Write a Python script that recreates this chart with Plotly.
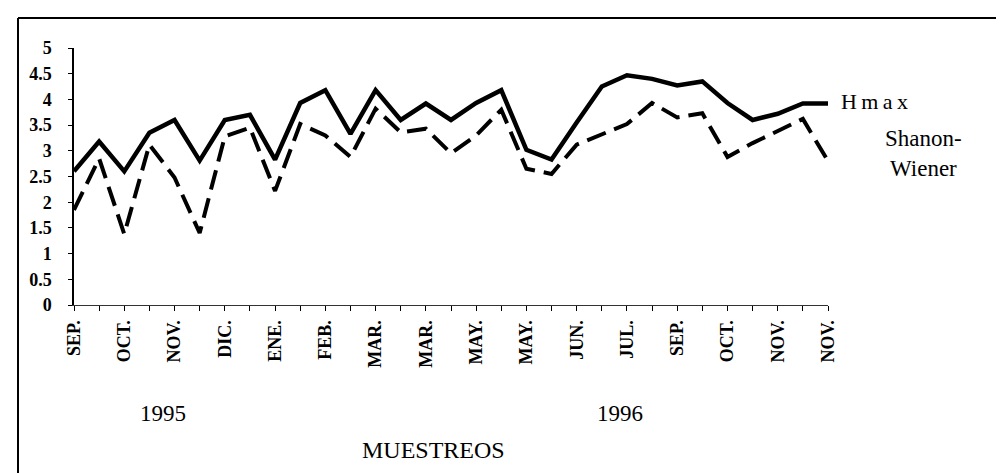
import plotly.graph_objects as go

# Sampling index (31 samplings), labels on every other sampling
muestreos = list(range(31))
tick_labels = ["SEP.", "OCT.", "NOV.", "DIC.", "ENE.", "FEB.", "MAR.", "MAR.",
               "MAY.", "MAY.", "JUN.", "JUL.", "SEP.", "OCT.", "NOV.", "NOV."]
tick_positions = muestreos[::2]
y_ticks = [0, 0.5, 1, 1.5, 2, 2.5, 3, 3.5, 4, 4.5, 5]
y_tick_labels = ["0", "0.5", "1", "1.5", "2", "2.5", "3", "3.5", "4", "4.5", "5"]

hmax = [2.60, 3.18, 2.60, 3.35, 3.60, 2.81, 3.60, 3.70, 2.83, 3.93,
        4.18, 3.33, 4.18, 3.60, 3.92, 3.60, 3.93, 4.18, 3.02, 2.83,
        3.55, 4.25, 4.47, 4.40, 4.27, 4.35, 3.93, 3.60, 3.72, 3.92, 3.92]
shannon = [1.85, 2.85, 1.38, 3.12, 2.48, 1.40, 3.28, 3.45, 2.22, 3.52,
           3.30, 2.88, 3.82, 3.36, 3.43, 2.95, 3.30, 3.80, 2.65, 2.55,
           3.12, 3.33, 3.52, 3.93, 3.65, 3.73, 2.88, 3.15, 3.38, 3.62, 2.80]

W, H = 1004, 473
L, R, T, B = 66, 184, 40, 176
pw, ph = W - L - R, H - T - B

def px(x):
    return (x - L) / pw

def py(y):
    return (H - B - y) / ph

fig = go.Figure()
fig.add_trace(go.Scatter(x=muestreos, y=hmax, mode="lines", name="Hmax",
                         line=dict(color="black", width=4.5), showlegend=False))
fig.add_trace(go.Scatter(x=muestreos, y=shannon, mode="lines", name="Shanon-Wiener",
                         line=dict(color="black", width=4, dash="20px,9px"),
                         showlegend=False))

serif = "Times New Roman, Liberation Serif, serif"
fig.update_layout(
    width=W, height=H,
    margin=dict(l=L, r=R, t=T, b=B, pad=0),
    plot_bgcolor="white", paper_bgcolor="white",
    xaxis=dict(range=[0, 30], tickvals=tick_positions, ticktext=tick_labels,
               tickangle=-90, showgrid=False, zeroline=False,
               showline=True, linecolor="#333333", linewidth=1,
               ticks="outside", ticklen=5, tickcolor="black", tickwidth=1,
               minor=dict(tickvals=muestreos, ticks="outside", ticklen=5,
                          tickcolor="black", tickwidth=1),
               ticklabelstandoff=2,
               tickfont=dict(family=serif, size=18, color="black", weight="bold")),
    yaxis=dict(range=[0, 5], tickvals=y_ticks, ticktext=y_tick_labels,
               showgrid=False, zeroline=False, showline=True, linecolor="black",
               linewidth=1.5, ticks="outside", ticklen=4, tickcolor="black",
               ticklabelstandoff=13,
               tickfont=dict(family=serif, size=18, color="black", weight="bold")),
)

# frame lines (left and top)
fig.add_shape(type="line", xref="paper", yref="paper",
              x0=px(10), x1=px(10), y0=py(10), y1=py(H + 5),
              line=dict(color="black", width=2))
fig.add_shape(type="line", xref="paper", yref="paper",
              x0=px(10), x1=px(W + 5), y0=py(10), y1=py(10),
              line=dict(color="black", width=2))

def ann(text, x, y, size, xanchor="center"):
    fig.add_annotation(text=text, xref="paper", yref="paper", x=px(x), y=py(y),
                       xanchor=xanchor, yanchor="middle", showarrow=False,
                       font=dict(family=serif, size=size, color="black"))

ann("H\u2009m\u2009a\u2009x", 831, 93, 22, xanchor="left")
ann("Shanon-", 915, 130, 23)
ann("Wiener", 915, 160, 23)
ann("1995", 155, 405, 23)
ann("1996", 612, 405, 23)
ann("MUESTREOS", 425, 442, 24)

fig.write_html("out.html")
